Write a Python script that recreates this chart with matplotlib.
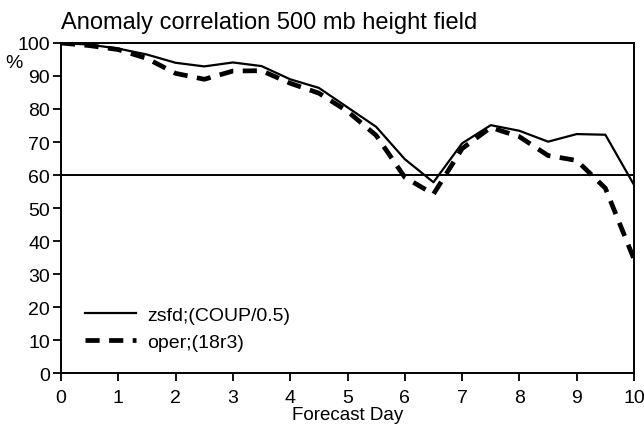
import matplotlib
matplotlib.use("Agg")
import matplotlib.pyplot as plt

plt.rcParams['font.family'] = ['Liberation Sans', 'DejaVu Sans']

days = [0, 0.5, 1, 1.5, 2, 2.5, 3, 3.5, 4, 4.5, 5, 5.5, 6, 6.5, 7, 7.5, 8, 8.5, 9, 9.5, 10]
zsfd = [100, 99.5, 98.3, 96.5, 94.0, 92.9, 94.1, 93.0, 89.0, 86.4, 80.5, 74.6, 64.8, 57.8, 69.6, 75.1, 73.4, 70.1, 72.4, 72.2, 57.0]
oper = [100, 99.2, 98.0, 95.3, 90.8, 89.0, 91.5, 91.6, 87.8, 84.8, 79.3, 72.0, 59.3, 54.2, 68.0, 74.4, 71.6, 65.9, 64.4, 56.0, 34.5]

labels = ["zsfd;(COUP/0.5)", "oper;(18r3)"]
ref_level = 60

fig = plt.figure(figsize=(6.44, 4.27), dpi=100)
ax = fig.add_axes([0.0947, 0.124, 0.8898, 0.773])

ax.plot(days, zsfd, color='black', lw=1.6, label=labels[0])
ax.plot(days, oper, color='black', lw=3.4, dashes=(3, 2), label=labels[1])
ax.axhline(ref_level, color='black', lw=1.4)

ax.set_xlim(0, 10)
ax.set_ylim(0, 100)
ax.set_xticks(range(0, 11))
ax.set_yticks(range(0, 101, 10))
ax.tick_params(labelsize=14, width=1.3, length=6, direction='out', pad=2)
ax.tick_params(axis='x', pad=5.5)
for s in ax.spines.values():
    s.set_linewidth(1.4)

ax.set_xlabel("Forecast Day", fontsize=13.5, labelpad=0)
ax.set_title("Anomaly correlation 500 mb height field", fontsize=17, loc='left', x=0.0, pad=11)
fig.text(0.008, 0.84, "%", fontsize=14)

ax.legend(loc='lower left', bbox_to_anchor=(0.012, 0.015), frameon=False, fontsize=14,
          handlelength=2.6, labelspacing=0.45, handletextpad=0.6)

fig.savefig("out.png", dpi=100)
